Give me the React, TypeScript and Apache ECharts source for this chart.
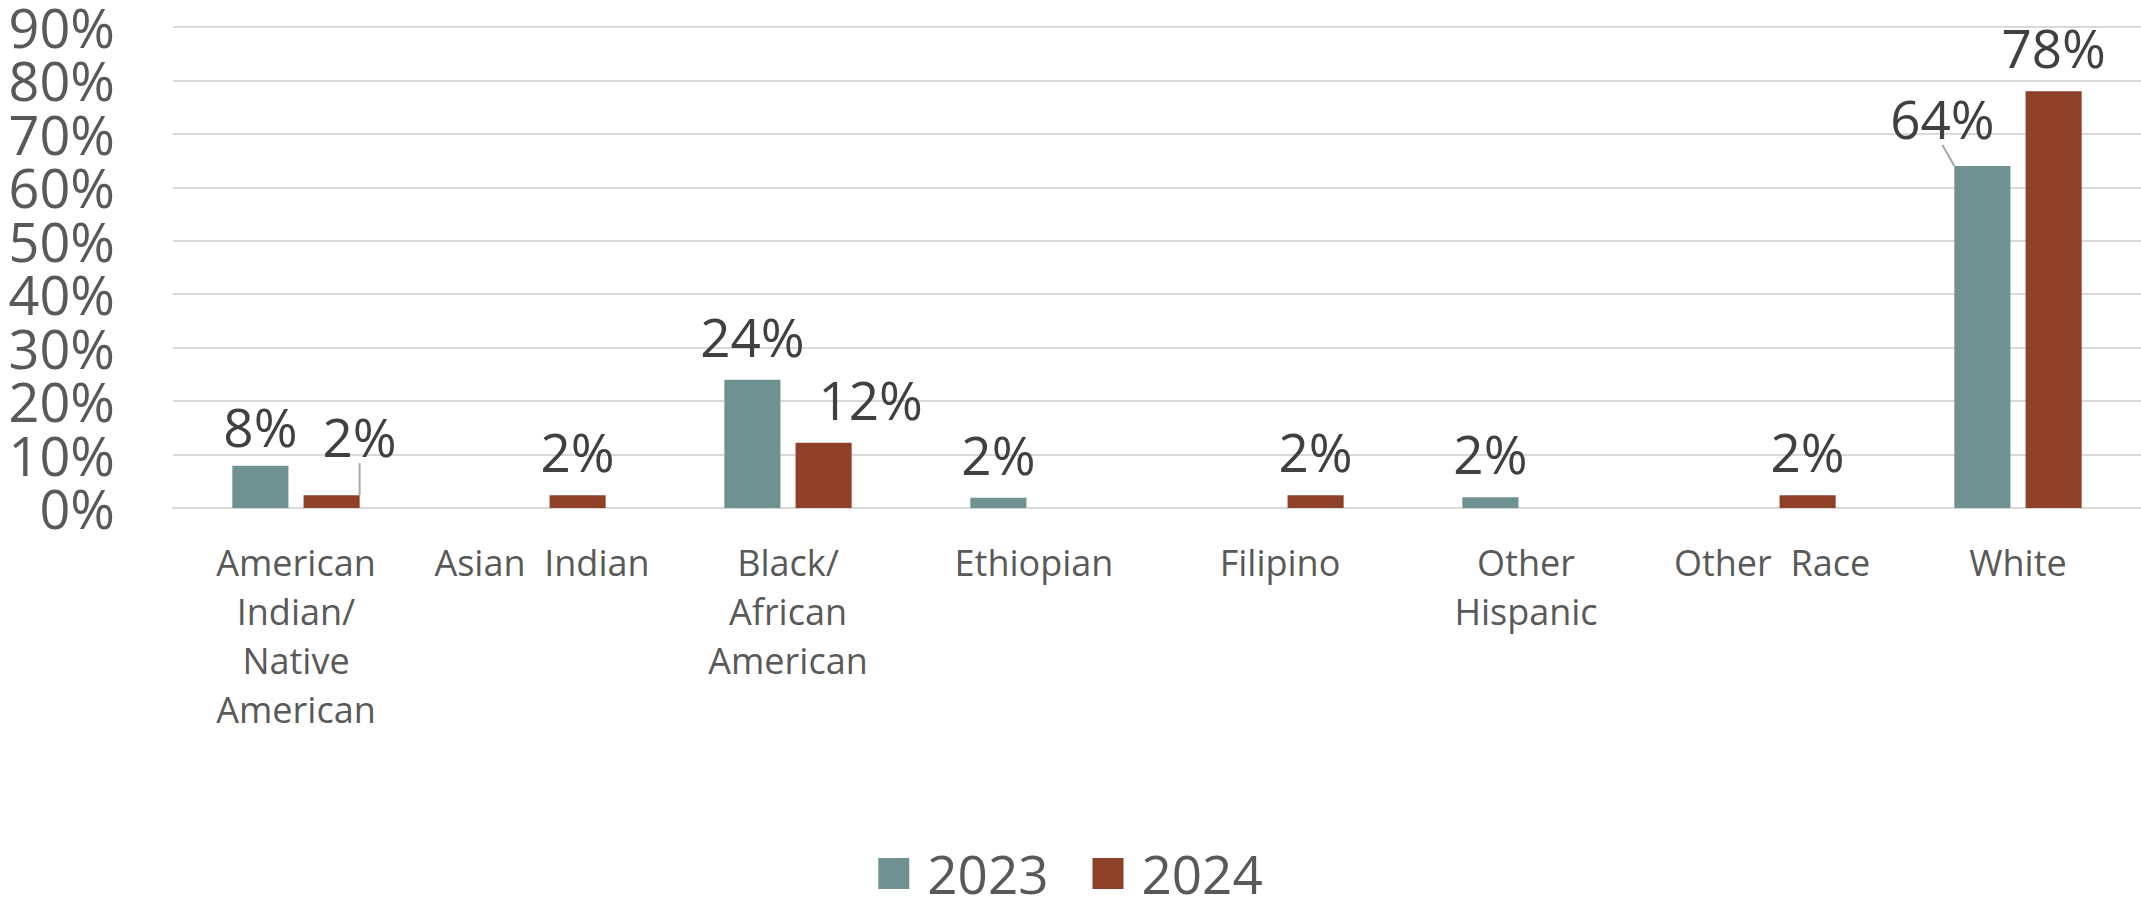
import React, { useEffect, useRef } from "react";
import * as echarts from "echarts";

const categories = [
  "American\nIndian/\nNative\nAmerican",
  "Asian  Indian",
  "Black/\nAfrican\nAmerican",
  "Ethiopian",
  "Filipino",
  "Other\nHispanic",
  "Other  Race",
  "White",
];
const seriesNames = ["2023", "2024"];
const values2023 = [7.9, null, 24.0, 1.9, null, 2.0, null, 64.0];
const values2024 = [2.4, 2.4, 12.2, null, 2.4, null, 2.4, 78.0];
const yTickLabels = ["0%", "10%", "20%", "30%", "40%", "50%", "60%", "70%", "80%", "90%"];

// label nudges (px) per [series][dataIndex], mimicking the reference placement
const labelShift: Record<string, [number, number]> = {
  "0-0": [0, 4],
  "1-0": [28, -15],
  "1-2": [47, 0],
  "0-7": [-40, -4],
};
const withLeader = ["1-0", "0-7"];

const colors = ["#6f9191", "#8e4028"];
const FONT = "'Open Sans', 'Noto Sans', sans-serif";

export default function App() {
  const ref = useRef<HTMLDivElement>(null);
  useEffect(() => {
    if (!ref.current) return;
    const chart = echarts.init(ref.current, null, { renderer: "svg" });
    const mk = (vals: (number | null)[], si: number) =>
      vals.map((v, i) => {
        const key = `${si}-${i}`;
        if (v === null) return null;
        if (withLeader.includes(key)) {
          return { value: v, labelLine: { show: true } };
        }
        return v;
      });
    chart.setOption({
      animation: false,
      color: colors,
      textStyle: { fontFamily: FONT },
      grid: { left: 173, right: 0, top: 27, bottom: 396, containLabel: false },
      legend: {
        data: seriesNames,
        top: 842,
        left: "center",
        icon: "rect",
        itemWidth: 31,
        itemHeight: 31,
        itemGap: 44,
        textStyle: {
          fontSize: 53,
          color: "#595959",
          fontFamily: FONT,
          padding: [0, 0, 0, 13],
        },
      },
      xAxis: {
        type: "category",
        data: categories,
        axisLine: { show: true, lineStyle: { color: "#d9d9d9", width: 2 } },
        axisTick: { show: false },
        axisLabel: {
          fontSize: 36,
          lineHeight: 49,
          color: "#595959",
          fontFamily: FONT,
          margin: 30,
          interval: 0,
          verticalAlign: "top",
        },
      },
      yAxis: [
        {
          type: "value",
          min: 0,
          max: 90,
          interval: 10,
          axisLine: { show: false },
          axisTick: { show: false },
          splitLine: { lineStyle: { color: "#d9d9d9", width: 2 } },
          axisLabel: { show: false },
        },
        {
          type: "category",
          data: yTickLabels,
          boundaryGap: false,
          position: "left",
          axisLine: { show: false },
          axisTick: { show: false },
          splitLine: { show: false },
          axisLabel: {
            interval: 0,
            fontSize: 54,
            lineHeight: 46,
            color: "#595959",
            fontFamily: FONT,
            margin: 58,
          },
        },
      ],
      series: [values2023, values2024].map((vals, si) => ({
        name: seriesNames[si],
        type: "bar",
        yAxisIndex: 0,
        data: mk(vals, si),
        barWidth: "22.8%",
        barGap: "27%",
        itemStyle: { color: colors[si] },
        label: {
          show: true,
          position: "top",
          distance: 17,
          fontSize: 53,
          color: "#404040",
          fontFamily: FONT,
          formatter: (p: any) => `${Math.round(p.value)}%`,
        },
        labelLine: { show: false, lineStyle: { color: "#a6a6a6", width: 2 } },
        labelLayout: (p: any) => {
          const s = labelShift[`${p.seriesIndex}-${p.dataIndex}`];
          if (!s) return {};
          return { dx: s[0], dy: s[1] };
        },
      })),
    });
    return () => chart.dispose();
  }, []);
  return (
    <div
      ref={ref}
      style={{ position: "absolute", left: 0, top: 0, width: 2141, height: 904 }}
    />
  );
}
